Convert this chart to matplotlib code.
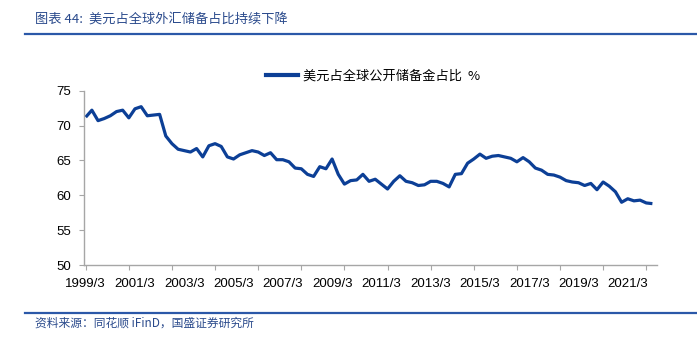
#!/usr/bin/env python3
"""
Chart 44: share of USD in global FX reserves keeps falling
(quarterly, 1999/3 - 2022/3)
"""

import matplotlib
matplotlib.use('Agg')
import matplotlib.pyplot as plt
from matplotlib.lines import Line2D

# quarter categories, 1999/3 ... 2022/3
years = list(range(1999, 2023))
quarter_months = [3, 6, 9, 12]
quarters = [f'{y}/{m}' for y in years for m in quarter_months][:93]

# USD share of allocated reserves, %
usd_share = [
    71.2, 72.2, 70.7, 71.0, 71.4, 72.0, 72.2, 71.1, 72.4, 72.7, 71.4, 71.5,
    71.6, 68.5, 67.4, 66.6, 66.4, 66.2, 66.7, 65.5, 67.1, 67.4, 67.0, 65.5,
    65.2, 65.8, 66.1, 66.4, 66.2, 65.7, 66.1, 65.1, 65.1, 64.8, 63.9, 63.8,
    63.0, 62.7, 64.1, 63.8, 65.2, 63.0, 61.6, 62.1, 62.2, 63.0, 62.0, 62.3,
    61.6, 60.9, 62.0, 62.8, 62.0, 61.8, 61.4, 61.5, 62.0, 62.0, 61.7, 61.2,
    63.0, 63.1, 64.6, 65.2, 65.9, 65.3, 65.6, 65.7, 65.5, 65.3, 64.8, 65.4,
    64.8, 63.9, 63.6, 63.0, 62.9, 62.6, 62.1, 61.9, 61.8, 61.4, 61.7, 60.8,
    61.9, 61.3, 60.5, 59.0, 59.5, 59.2, 59.3, 58.9, 58.8,
]

x_labels = ['1999/3', '2001/3', '2003/3', '2005/3', '2007/3', '2009/3',
            '2011/3', '2013/3', '2015/3', '2017/3', '2019/3', '2021/3']
y_ticks = [50, 55, 60, 65, 70, 75]

title_text = '图表 44:  美元占全球外汇储备占比持续下降'
legend_text = '美元占全球公开储备金占比  %'
source_text = '资料来源：同花顺 iFinD，国盛证券研究所'

LINE_BLUE = '#0C3F96'
TEXT_BLUE = '#2A4A8C'
AXIS_GRAY = '#A6A6A6'


def draw_chart():
    """
    Draw the line chart with header and source footer
    """
    plt.rcParams['font.family'] = ['Liberation Sans', 'Noto Sans CJK SC']

    fig = plt.figure(figsize=(6.97, 3.37), dpi=100)
    ax = fig.add_axes([0.1205, 0.2136, 0.8217, 0.5174])

    xs = list(range(len(usd_share)))
    ax.plot(xs, usd_share, color=LINE_BLUE, linewidth=2.3,
            solid_joinstyle='round', solid_capstyle='butt')

    ax.set_xlim(-0.28, 92.7)
    ax.set_ylim(50, 75)

    # tick marks every 7 quarters, labels every 8 quarters (as in source)
    ax.xaxis.remove_overlapping_locs = False
    ax.set_xticks(range(0, len(usd_share), 7))
    ax.set_xticklabels([])
    label_pos = [quarters.index(lab) for lab in x_labels]
    ax.set_xticks(label_pos, minor=True)
    ax.set_xticklabels(x_labels, minor=True, fontsize=9.5)
    ax.tick_params(axis='x', which='major', length=3.5, color=AXIS_GRAY,
                   direction='out')
    ax.tick_params(axis='x', which='minor', length=0, pad=9)

    ax.set_yticks(y_ticks)
    ax.tick_params(axis='y', length=3.5, color=AXIS_GRAY, direction='out',
                   labelsize=9.5, pad=6)

    for side in ['top', 'right']:
        ax.spines[side].set_visible(False)
    for side in ['left', 'bottom']:
        ax.spines[side].set_color(AXIS_GRAY)
        ax.spines[side].set_linewidth(1.0)

    handle = Line2D([], [], color=LINE_BLUE, linewidth=3.0)
    fig.legend([handle], [legend_text], loc='center',
               bbox_to_anchor=(0.535, 0.775), frameon=False,
               handlelength=2.4, handletextpad=0.4,
               prop={'family': ['Noto Sans CJK SC'], 'size': 9.5})

    # header and footer
    fig.text(0.05, 0.944, title_text, color=TEXT_BLUE, fontsize=9.5,
             ha='left', va='center', style='italic',
             family=['Noto Sans CJK SC', 'DejaVu Sans'])
    fig.add_artist(Line2D([0.036, 1.0], [0.90, 0.90], color='#2B58A8',
                          linewidth=1.6, transform=fig.transFigure))
    fig.add_artist(Line2D([0.036, 1.0], [0.072, 0.072], color='#2B58A8',
                          linewidth=1.6, transform=fig.transFigure))
    fig.text(0.05, 0.040, source_text, color=TEXT_BLUE, fontsize=8.5,
             ha='left', va='center', style='italic',
             family=['Noto Sans CJK SC', 'DejaVu Sans'])

    fig.savefig('out.png', dpi=100)


def main():
    draw_chart()


if __name__ == "__main__":
    main()
